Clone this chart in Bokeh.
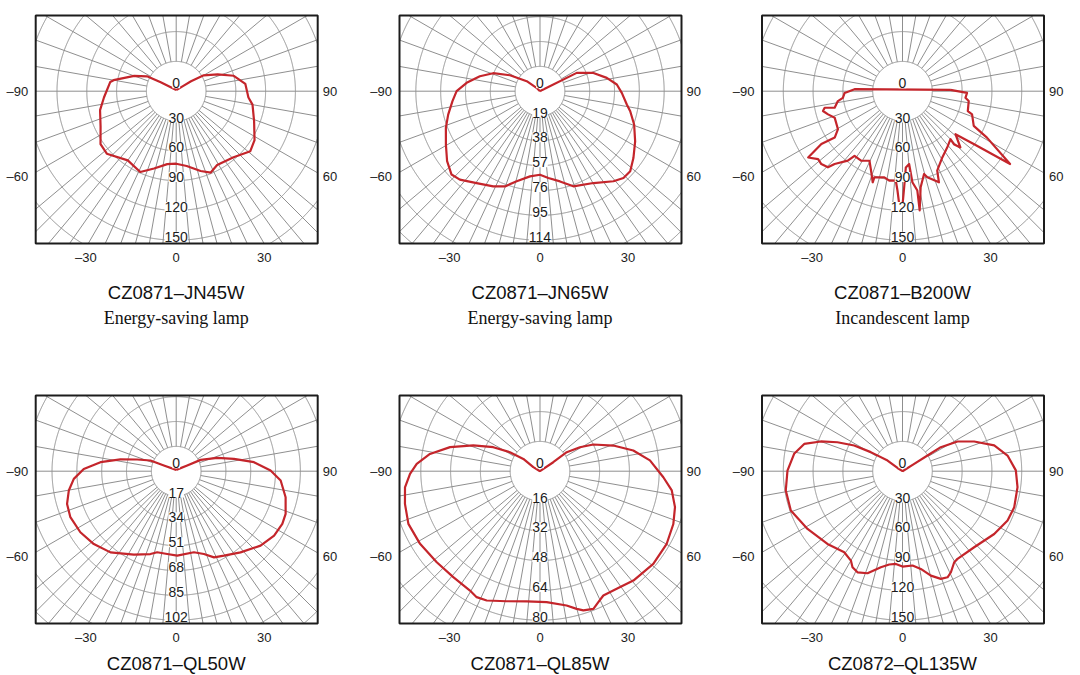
import math
from bokeh.plotting import figure
from bokeh.models import Range1d
from bokeh.layouts import row, column
from bokeh.embed import file_html
from bokeh.resources import INLINE
from bokeh.core.properties import value

# ---------------- data ----------------
names = ["CZ0871–JN45W", "CZ0871–JN65W", "CZ0871–B200W",
         "CZ0871–QL50W", "CZ0871–QL85W", "CZ0872–QL135W"]
lamp_types = ["Energy-saving lamp", "Energy-saving lamp", "Incandescent lamp", "", "", ""]
ring_steps = [30, 19, 30, 17, 16, 30]      # cd per ring
ring_counts = [5, 6, 5, 6, 5, 5]           # labelled rings below the centre
side_ticks = [90, 60]
bottom_ticks = [-30, 0, 30]

jn45w_deg = [-180, -150, -124, -120, -117, -110, -100, -98, -85, -76, -65, -55, -48, -35, -24, -16, -7, 0,
             8, 17, 23, 29, 41, 51, 58, 69, 80, 85, 96, 105, 112, 120, 124, 127, 150, 180]
jn45w_cd = [1, 2, 9, 18, 33, 45, 64, 67, 73, 79, 84, 93, 94, 85, 89, 81, 74, 73,
            76, 84, 89, 85, 88, 96, 93, 84, 78, 73, 70, 60, 45, 32, 18, 9, 2, 1]

jn65w_deg = [-180, -135, -127, -118, -111, -104, -96.5, -90, -83.5, -75.7, -68.7, -60.4, -53, -46.7, -42.2,
             -34.6, -26.2, -20.2, -14.5, -6.7, 0, 5.5, 12.5, 19.3, 30.2, 39.2, 43.9, 48.4, 54.4, 62.2,
             70.5, 77.5, 81.3, 88.8, 95, 101.3, 108.9, 116.5, 120, 180]
jn65w_cd = [0, 3, 12.7, 26, 38.4, 47.4, 56.5, 63.8, 67.4, 72.5, 77.3, 82.8, 89, 93, 91.3,
            85.4, 81.1, 77.6, 71.2, 65.6, 63.9, 66.7, 70.7, 77.1, 81.3, 88.9, 92.1, 92.3, 87.9, 82.3,
            76.4, 70.7, 67.2, 62.6, 59, 52.1, 43.2, 31.4, 2, 0]

b200w_deg = [91.5, 88.5, 84, 81.5, 73.1, 71.6, 64, 61.2, 55.9, 53.4, 50.9, 45.8, 44.1, 45, 38.4, 31,
             23.6, 21.8, 16.1, 14.6, 10.7, 8.2, 8.5, 6.2, 5.2, 2.5, 1, 0, -1.7, -2.9, -4.3, -8.4,
             -11.9, -18.1, -18.1, -21.6, -25.4, -30.8, -36.6, -38.2, -43, -44.4, -48.1, -51.2, -54.9,
             -55.8, -56.9, -56.3, -55.6, -59.5, -68.7, -72.7, -76, -78, -76.3, -81.3, -83.6, -88.3,
             -92.4, 91.5]
b200w_cd = [48.3, 65, 63.7, 67.4, 68.7, 73.8, 79.8, 97, 130.8, 89.3, 68.7, 81.3, 74.3, 68.3, 72.4, 77.8,
            87.3, 98.8, 90.2, 86.1, 98.4, 121.2, 101.1, 92.2, 73.6, 76.8, 96.7, 115, 113.4, 100.1, 90.2, 91,
            88.6, 91.2, 96.5, 86, 77.5, 81.5, 81, 89, 100.2, 107.3, 109.8, 109, 116.1,
            106.8, 97.5, 90.1, 82.7, 75.4, 73.3, 78.5, 82.5, 80.1, 70.3, 65.8, 60.4, 58.3,
            48.3, 48.3]

ql50w_deg = [-180, -114.9, -112.6, -106.7, -101.9, -96.8, -91.4, -85.7, -79.8, -73.3, -66.5, -57.5, -48.5,
             -39, -26.9, -17.3, -13.2, -6.2, 0.7, 12.3, 18.5, 23.7, 29.5, 38.4, 48.6, 56.7, 63.6, 68.7,
             76.6, 84.9, 90.4, 96.6, 102, 108, 114.9, 117.4, 180]
ql50w_cd = [0.9, 9.3, 19.1, 27.9, 39, 52.2, 63.3, 70.3, 74.7, 78, 79, 77.8, 75.3,
            71.5, 64, 59.4, 57, 57, 57.8, 56.8, 59.8, 64.4, 66.4, 70.9, 77, 80.2, 81.1, 80.4,
            77, 71.8, 64.6, 53.6, 40.4, 29.5, 18.4, 8.5, 0.9]

ql85w_deg = [-180, -121, -126.4, -122.3, -117.2, -111.1, -105, -98.9, -93.4, -88.8, -83.2, -76.4, -68.2,
             -58.8, -48.6, -39.3, -30.4, -26.7, -22.4, -14.4, -5.8, 2.9, 11.2, 14.9, 17.3, 21.2, 24, 27,
             33.1, 40.5, 50.7, 60.2, 68.4, 75.1, 81.7, 87.2, 95.6, 102.5, 109.3, 116.6, 121, 125.4,
             124.1, 180]
ql85w_cd = [0, 4.2, 11.1, 19.1, 28.2, 38.4, 50, 59.8, 66.3, 69.8, 73, 74.6, 76.1,
            75.3, 73.9, 73.5, 74.3, 75.7, 75.1, 72.1, 70.2, 70.4, 73.5, 76.5, 78.3, 79.3, 77, 74.9,
            75.4, 77.2, 78.6, 78.4, 77, 75, 71.5, 66.3, 59.3, 51.3, 41.7, 32, 25, 17.6,
            8.6, 0]

ql135w_deg = [-180, -123, -125.5, -121, -118, -114, -110, -105.5, -99.1, -90.3, -80.6, -70.6, -58.7, -45.9,
              -35.7, -30, -27.5, -24, -18.9, -12.7, -8.1, -4.1, 0, 6.1, 10.6, 15.2, 19.6, 23, 25.6, 29.6,
              32.1, 43.3, 55.6, 64.9, 72.1, 82.1, 90.4, 98.5, 105.7, 112.5, 118.4, 122.1, 122.1, 122, 180]
ql135w_cd = [0, 6, 18.5, 37.3, 55.1, 71.7, 87.5, 102.7, 110.5, 115.8, 119.1, 119.2, 111.9, 105.2,
             100.5, 103.9, 109, 111.4, 108.6, 99.1, 94.9, 93.6, 96, 95.5, 100.1, 108.9, 115.1, 116, 112.8, 105.4,
             104.2, 105.2, 111.9, 116.8, 118.2, 116.9, 114.1, 106.9, 95.9, 78.1, 62.9, 45.5, 29.7, 13.9, 0]

curves = [(jn45w_deg, jn45w_cd), (jn65w_deg, jn65w_cd), (b200w_deg, b200w_cd),
          (ql50w_deg, ql50w_cd), (ql85w_deg, ql85w_cd), (ql135w_deg, ql135w_cd)]

# ---------------- styling / geometry ----------------
SANS = "Liberation Sans"
SERIF = "Liberation Serif"
GRID = "#8f8f8f"
RED = "#c4252b"
INK = "#1c1c1c"
XL, XR = -140.5, 141.5       # box extent relative to the polar centre (px)
YB, YT = -152.3, 75.7
LAST_RING_PX = 149.0

col_x = [(0, 363), (363, 727), (727, 1076)]   # page x extent of each figure column
row_y = [(0, 380), (380, 675)]                # page y extent of each figure row
centre_x = [175.7, 539.5, 902.0]
centre_y = [90.7, 470.7]
title_mid = [292.0, 662.5]                    # page y of the title centres per row
subtitle_mid = 317.0

lower_angles = list(range(0, 46, 5)) + [50, 60, 70, 80]
grid_angles = sorted(set([a for a in lower_angles] + [-a for a in lower_angles] +
                         list(range(90, 181, 10)) + [-a for a in range(90, 180, 10)]))


def inside(x, y):
    return XL <= x <= XR and YB <= y <= YT


def clamp(x, y):
    return min(max(x, XL), XR), min(max(y, YB), YT)


def ring_segments(r):
    segs, cur = [], None
    prev = None
    n = 1440
    for k in range(n + 1):
        t = 2 * math.pi * k / n
        pt = (r * math.sin(t), -r * math.cos(t))
        ins = inside(*pt)
        if ins:
            if cur is None:
                cur = [[], []]
                if prev is not None:
                    cx, cy = clamp(*prev)
                    cur[0].append(cx); cur[1].append(cy)
            cur[0].append(pt[0]); cur[1].append(pt[1])
        else:
            if cur is not None:
                cx, cy = clamp(*pt)
                cur[0].append(cx); cur[1].append(cy)
                segs.append(cur)
                cur = None
        prev = pt
    if cur is not None:
        segs.append(cur)
    return segs


def ray_end(a):
    s, c = math.sin(math.radians(a)), -math.cos(math.radians(a))
    ts = []
    if s > 1e-9: ts.append(XR / s)
    if s < -1e-9: ts.append(XL / s)
    if c > 1e-9: ts.append(YT / c)
    if c < -1e-9: ts.append(YB / c)
    return s, c, min(ts)


def make_panel(i):
    col, rw = i % 3, i // 3
    x0, x1 = col_x[col]
    y0, y1 = row_y[rw]
    cxp, cyp = centre_x[col], centre_y[rw]
    p = figure(width=x1 - x0, height=y1 - y0, output_backend="svg", toolbar_location=None,
               x_range=Range1d(x0 - cxp, x1 - cxp), y_range=Range1d(cyp - y1, cyp - y0),
               x_axis_location=None, y_axis_location=None,
               min_border_left=0, min_border_right=0, min_border_top=0, min_border_bottom=0)
    p.grid.visible = False
    p.outline_line_color = None
    p.background_fill_color = "white"
    p.border_fill_color = "white"

    step, n = ring_steps[i], ring_counts[i]
    ring_px = LAST_RING_PX / n
    scale = ring_px / step

    # rings, clipped to the box
    mx, my = [], []
    for k in range(1, 11):
        for sx, sy in ring_segments(k * ring_px):
            mx.append(sx); my.append(sy)
    # radial lines from the first ring to the box
    for a in grid_angles:
        s, c, t = ray_end(a)
        mx.append([ring_px * s, t * s]); my.append([ring_px * c, t * c])
    p.multi_line(mx, my, line_color=GRID, line_width=1)

    # intensity curve
    deg, cd = curves[i]
    xs = [v * scale * math.sin(math.radians(a)) for a, v in zip(deg, cd)]
    ys = [-v * scale * math.cos(math.radians(a)) for a, v in zip(deg, cd)]
    xs.append(xs[0]); ys.append(ys[0])
    p.line(xs, ys, line_color=RED, line_width=2.2, line_join="round")

    # ring labels
    lab = [str(step * k) for k in range(n + 1)]
    ly = [8] + [-(k * ring_px - 3.5) for k in range(1, n + 1)]
    p.text(x=[0] * len(lab), y=ly, text=lab, text_font=value(SANS), text_font_size="14px",
           text_align="center", text_baseline="middle", text_color=INK,
           background_fill_color="white", padding=0)

    # box
    p.quad(left=[XL], right=[XR], bottom=[YB], top=[YT], fill_color=None,
           line_color=INK, line_width=2)

    # side angle labels
    side_y = [0 if t == 90 else -85 for t in side_ticks]
    p.text(x=[XL - 7.5] * len(side_ticks), y=side_y, text=["–" + str(t) for t in side_ticks],
           text_font=value(SANS), text_font_size="13px", text_align="right",
           text_baseline="middle", text_color=INK)
    p.text(x=[XR + 5] * len(side_ticks), y=side_y, text=[str(t) for t in side_ticks],
           text_font=value(SANS), text_font_size="13px", text_align="left",
           text_baseline="middle", text_color=INK)
    # bottom angle labels
    bx = [-YB * math.tan(math.radians(t)) for t in bottom_ticks]
    bx = [x - (2.5 if t < 0 else 0) for x, t in zip(bx, bottom_ticks)]
    p.text(x=bx, y=[YB - 14] * len(bottom_ticks),
           text=[("–" + str(-t)) if t < 0 else str(t) for t in bottom_ticks],
           text_font=value(SANS), text_font_size="13px", text_align="center",
           text_baseline="middle", text_color=INK)

    # titles
    p.text(x=[0], y=[cyp - title_mid[rw]], text=[names[i]], text_font=value(SANS),
           text_font_size="18.5px", text_align="center", text_baseline="middle",
           text_color="#111111")
    if lamp_types[i]:
        p.text(x=[0], y=[cyp - subtitle_mid], text=[lamp_types[i]], text_font=value(SERIF),
               text_font_size="18px", text_align="center", text_baseline="middle",
               text_color="#111111")
    return p


panels = [make_panel(i) for i in range(6)]
layout = column(row(*panels[:3]), row(*panels[3:]))
open("out.html", "w").write(file_html(layout, INLINE))
